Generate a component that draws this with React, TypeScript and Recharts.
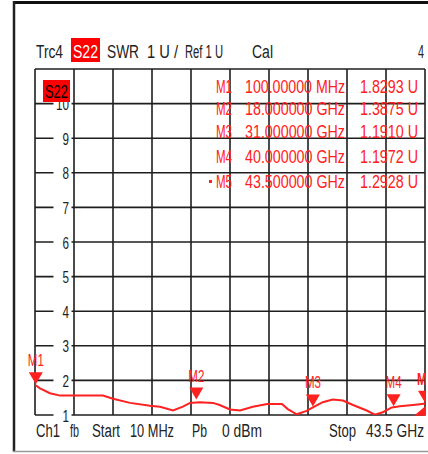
import React from 'react';
import { LineChart, Line, XAxis, YAxis, CartesianGrid, ReferenceDot } from 'recharts';

const FONT = "'Liberation Sans', Arial, sans-serif";

// Trace (frequency in GHz, SWR in U)
const freqGHz = [0.01, 0.57, 1.68, 2.8, 4.66, 7.59, 8.71, 10.6, 12.83, 13.95, 15.4, 16.5, 17.29, 18.4, 19.86, 20.6, 21.75, 22.87, 24.3, 25.9, 27.55, 28.2, 29.2, 30.3, 31.0, 32.1, 33.2, 34.35, 35.47, 37.0, 37.9, 38.8, 39.8, 40.7, 42.15, 43.15, 43.5];
const swrValues = [1.87, 1.77, 1.63, 1.56, 1.56, 1.56, 1.47, 1.35, 1.27, 1.24, 1.13, 1.24, 1.35, 1.37, 1.35, 1.29, 1.16, 1.13, 1.24, 1.32, 1.32, 1.17, 1.02, 1.12, 1.22, 1.37, 1.45, 1.42, 1.29, 1.13, 1.01, 1.08, 1.22, 1.25, 1.29, 1.32, 1.33];

// Grid divisions
const xDivisions = [0.01, 4.359, 8.708, 13.057, 17.406, 21.755, 26.104, 30.453, 34.802, 39.151, 43.5];
const yTicks = [1, 2, 3, 4, 5, 6, 7, 8, 9, 10, 11];
const yTickLabels = ['1', '2', '3', '4', '5', '6', '7', '8', '9', '10'];

// Markers
const markerNames = ['M1', 'M2', 'M3', 'M4', 'M5'];
const markerFreqGHz = [0.1, 18, 31, 40, 43.5];
const markerSWR = [1.8293, 1.3875, 1.191, 1.1972, 1.2928];
const markerFreqLabels = ['100.00000 MHz', '18.000000 GHz', '31.000000 GHz', '40.000000 GHz', '43.500000 GHz'];
const markerValueLabels = ['1.8293 U', '1.3875 U', '1.1910 U', '1.1972 U', '1.2928 U'];
const activeMarker = 'M5';

const data = freqGHz.map((f, i) => ({ f, swr: swrValues[i] }));

const W = 428;
const H = 454;
const M = { top: 69, right: 3, bottom: 39, left: 35 };
const RED = '#ff2020';
const X_MIN = xDivisions[0];
const X_MAX = xDivisions[xDivisions.length - 1];
const Y_MIN = yTicks[0];
const Y_MAX = yTicks[yTicks.length - 1];

type TP = { x: number; y: number; w?: number; anchor?: string; size?: number; fill?: string; weight?: string; children: any };
const T = ({ x, y, w, anchor = 'start', size = 18, fill = '#222', weight = 'normal', children }: TP) => (
  <text
    x={x}
    y={y}
    textLength={w}
    lengthAdjust={w ? 'spacingAndGlyphs' : undefined}
    textAnchor={anchor as any}
    fontSize={size}
    fontFamily={FONT}
    fill={fill}
    fontWeight={weight}
  >
    {children}
  </text>
);

const makeYLabelShape = (label: string) => (p: any) => {
  const { cx, cy } = p;
  if (cx == null || cy == null) return <g />;
  return (
    <g>
      <rect x={cx + 18.5} y={cy - 7} width={18} height={14} fill="#fff" />
      <T x={cx + 34} y={cy + 6.5} w={label.length * 6.5} anchor="end" size={16}>
        {label}
      </T>
    </g>
  );
};

const makeMarkerShape = (name: string) => (p: any) => {
  const { cx, cy } = p;
  if (cx == null || cy == null) return <g />;
  const tip = cy - 2;
  const active = name === activeMarker;
  return (
    <g>
      <polygon points={`${cx - 7},${tip - 12} ${cx + 7},${tip - 12} ${cx},${tip}`} fill={RED} />
      {active && <polygon points={`${cx - 11},${cy + 11} ${cx + 2},${cy + 11} ${cx + 2},${cy}`} fill={RED} />}
      <T x={cx} y={tip - 18} w={16} anchor="middle" size={16} fill={RED} weight={active ? 'bold' : 'normal'}>
        {name}
      </T>
    </g>
  );
};

const hGen = (props: any) => {
  const s = props?.yAxis?.scale;
  if (typeof s === 'function') return yTicks.map((t) => s(t));
  const o = props.offset;
  return yTicks.map((t) => o.top + (o.height * (Y_MAX - t)) / (Y_MAX - Y_MIN));
};
const vGen = (props: any) => {
  const s = props?.xAxis?.scale;
  if (typeof s === 'function') return xDivisions.map((t) => s(t));
  const o = props.offset;
  return xDivisions.map((t) => o.left + (o.width * (t - X_MIN)) / (X_MAX - X_MIN));
};

const rowBaselines = [93, 115, 138, 163, 188];

export default function App() {
  return (
    <div style={{ position: 'absolute', left: 0, top: 0, width: W, height: H, background: '#fff' }}>
      <LineChart width={W} height={H} data={data} margin={M}>
        <CartesianGrid
          stroke="#1e1e1e"
          strokeWidth={1.6}
          horizontalCoordinatesGenerator={hGen}
          verticalCoordinatesGenerator={vGen}
        />
        <XAxis dataKey="f" type="number" domain={[X_MIN, X_MAX]} ticks={xDivisions} hide allowDataOverflow />
        <YAxis type="number" domain={[Y_MIN, Y_MAX]} ticks={yTicks} hide allowDataOverflow />
        <Line
          dataKey="swr"
          type="linear"
          stroke={RED}
          strokeWidth={2}
          dot={false}
          isAnimationActive={false}
        />
        {yTickLabels.map((l, i) => (
          <ReferenceDot
            key={'yl' + l}
            x={X_MIN}
            y={yTicks[i]}
            r={0}
            ifOverflow="visible"
            shape={makeYLabelShape(l)}
          />
        ))}
        {markerNames.map((n, i) => (
          <ReferenceDot
            key={n}
            x={markerFreqGHz[i]}
            y={markerSWR[i]}
            r={0}
            ifOverflow="visible"
            shape={makeMarkerShape(n)}
          />
        ))}
      </LineChart>
      <svg width={W} height={H} style={{ position: 'absolute', left: 0, top: 0, pointerEvents: 'none' }}>
        <rect x={426} y={340} width={2} height={80} fill="#fff" />
        {/* frame */}
        <line x1={13} y1={2.5} x2={428} y2={2.5} stroke="#111" strokeWidth={3} />
        <line x1={14} y1={1} x2={14} y2={452} stroke="#222" strokeWidth={2.5} />
        <line x1={13} y1={451.5} x2={428} y2={451.5} stroke="#999" strokeWidth={1.5} />
        {/* header */}
        <T x={36} y={58} w={27}>Trc4</T>
        <rect x={71} y={38} width={29} height={24} fill="#ff0000" />
        <T x={73} y={58} w={25} fill="#fff">S22</T>
        <T x={107} y={58} w={32}>SWR</T>
        <T x={147} y={58} w={31}>1 U /</T>
        <T x={185} y={58} w={38}>Ref 1 U</T>
        <T x={252} y={58} w={21}>Cal</T>
        <T x={418} y={58} w={6}>4</T>
        {/* trace label in plot */}
        <rect x={43} y={80} width={27} height={22} fill="#ff0000" />
        <T x={45} y={98} w={23} size={19} fill="#000">S22</T>
        {/* marker table */}
        {markerNames.map((n, i) => (
          <g key={n}>
            {n === activeMarker && <rect x={209} y={rowBaselines[i] - 8} width={3} height={3} fill={RED} />}
            <T x={232} y={rowBaselines[i]} w={16} anchor="end" fill={RED}>{n}</T>
            <T x={245} y={rowBaselines[i]} w={100} fill={RED}>{markerFreqLabels[i]}</T>
            <T x={360} y={rowBaselines[i]} w={58} fill={RED}>{markerValueLabels[i]}</T>
          </g>
        ))}
        {/* footer */}
        <T x={36} y={437} w={24}>Ch1</T>
        <T x={70} y={437} w={9}>fb</T>
        <T x={92} y={437} w={28}>Start</T>
        <T x={130} y={437} w={44}>10 MHz</T>
        <T x={192} y={437} w={15}>Pb</T>
        <T x={222} y={437} w={40}>0 dBm</T>
        <T x={329} y={437} w={27}>Stop</T>
        <T x={366} y={437} w={58}>43.5 GHz</T>
      </svg>
    </div>
  );
}
